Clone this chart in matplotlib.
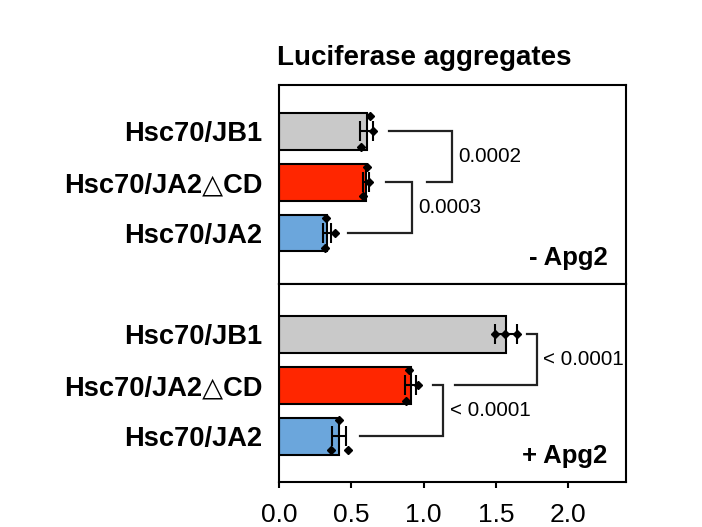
import matplotlib
matplotlib.use("Agg")
import matplotlib.pyplot as plt
import numpy as np

plt.rcParams['font.family'] = ['Liberation Sans', 'DejaVu Sans']

# data (top to bottom within each panel)
labels = ["Hsc70/JB1", "Hsc70/JA2\u25b3CD", "Hsc70/JA2"]
colors = ["#c9c9c9", "#ff2600", "#6ba6dc"]

minus_mean = [0.607, 0.600, 0.333]
minus_sd = [0.045, 0.022, 0.030]
minus_points = [[0.630, 0.653, 0.565], [0.607, 0.625, 0.579], [0.325, 0.387, 0.318]]
minus_jitter = [[-0.3, 0.0, 0.3], [-0.3, 0.0, 0.28], [-0.3, 0.0, 0.3]]

plus_mean = [1.568, 0.910, 0.415]
plus_sd = [0.077, 0.040, 0.050]
plus_points = [[1.495, 1.564, 1.649], [0.902, 0.964, 0.879], [0.417, 0.360, 0.475]]
plus_jitter = [[0.0, 0.0, 0.0], [-0.3, 0.0, 0.3], [-0.31, 0.28, 0.28]]

# brackets: (row_a, row_b, x_start_a, x_start_b, x_vertical, p-value text)
minus_brackets = [(0, 1, 0.761, 1.022, 1.195, "0.0002"),
                  (1, 2, 0.740, 0.478, 0.918, "0.0003")]
plus_brackets = [(0, 1, 1.714, 1.218, 1.783, "< 0.0001"),
                 (1, 2, 1.066, 0.560, 1.135, "< 0.0001")]

fig = plt.figure(figsize=(7.02, 5.27), dpi=100)
ax_top = fig.add_axes([0.3974, 0.4611, 0.4943, 0.3776])
ax_bot = fig.add_axes([0.3974, 0.0854, 0.4943, 0.3757])


def draw_panel(ax, means, sds, points, jitter, brackets, tag, ylim):
    y = np.arange(len(labels))
    ax.barh(y, means, height=0.72, color=colors, edgecolor='black', linewidth=1.5, zorder=2)
    ax.errorbar(means, y, xerr=sds, fmt='none', ecolor='black', elinewidth=1.5,
                capsize=7, capthick=1.5, zorder=3)
    for i in range(len(labels)):
        ax.plot(points[i], y[i] + np.array(jitter[i]), 'D', color='black',
                markersize=4.5, zorder=4)
    for a, b, xa, xb, xv, txt in brackets:
        ax.plot([xa, xv, xv, xb], [a, a, b, b], color='#222222', linewidth=1.6,
                solid_joinstyle='miter', zorder=2)
        ax.text(xv + 0.045, (a + b) / 2, txt, fontsize=14.8, ha='left', va='center')
    ax.text(0.947, 0.13, tag, transform=ax.transAxes, fontsize=18.5,
            fontweight='bold', ha='right', va='center')
    ax.set_xlim(0, 2.4)
    ax.set_ylim(*ylim)
    ax.set_yticks(y)
    ax.set_yticklabels(labels, fontsize=19.6, fontweight='bold')
    ax.tick_params(axis='y', length=0, pad=12)
    for s in ax.spines.values():
        s.set_linewidth(1.5)


draw_panel(ax_top, minus_mean, minus_sd, minus_points, minus_jitter,
           minus_brackets, "- Apg2", (3.0, -0.91))
draw_panel(ax_bot, plus_mean, plus_sd, plus_points, plus_jitter,
           plus_brackets, "+ Apg2", (2.9, -0.99))

ax_top.tick_params(axis='x', bottom=False, labelbottom=False)
ax_bot.set_xticks([0.0, 0.5, 1.0, 1.5, 2.0])
ax_bot.set_xticklabels(["0.0", "0.5", "1.0", "1.5", "2.0"])
ax_bot.tick_params(axis='x', length=4, width=1.5, labelsize=19, pad=11)

fig.text(277 / 702, 1 - 58 / 527, "Luciferase aggregates", fontsize=20,
         fontweight='bold', ha='left', va='center')

fig.savefig("out.png", dpi=100)
